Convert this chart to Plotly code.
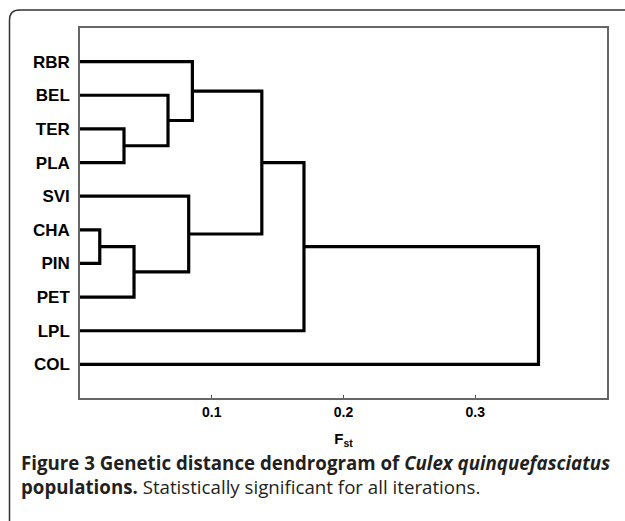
import plotly.graph_objects as go

# ---- data ----
leaves = ["RBR", "BEL", "TER", "PLA", "SVI", "CHA", "PIN", "PET", "LPL", "COL"]
# merges: indices < 10 refer to leaves, >= 10 to previous merges (10 + k)
merge_left = [2, 1, 0, 5, 13, 4, 12, 16, 17]
merge_right = [3, 10, 11, 6, 7, 14, 15, 8, 9]
merge_height = [0.0334, 0.0668, 0.0853, 0.015, 0.041, 0.0825, 0.138, 0.170, 0.348]
x_ticks = [0.1, 0.2, 0.3]
x_tick_labels = ["0.1", "0.2", "0.3"]

W, H = 625, 521
L, R, T, B = 80, 18, 28, 123
PW, PH = W - L - R, H - T - B


def px(x):
    return (x - L) / PW


def py(y):
    return (H - B - y) / PH


n = len(leaves)
pos_x = [0.0] * n
pos_y = [float(n - i) for i in range(n)]

fig = go.Figure()
for a, b, h in zip(merge_left, merge_right, merge_height):
    xa, ya = pos_x[a], pos_y[a]
    xb, yb = pos_x[b], pos_y[b]
    fig.add_trace(go.Scatter(
        x=[xa, h, h, xb], y=[ya, ya, yb, yb], mode="lines",
        line=dict(color="black", width=3.2), hoverinfo="skip", showlegend=False))
    pos_x.append(h)
    pos_y.append((ya + yb) / 2)

fig.update_xaxes(
    range=[0, 0.4], tickvals=x_ticks, ticktext=x_tick_labels,
    ticks="inside", ticklen=3, tickcolor="#555", tickwidth=1,
    showline=True, mirror=True, linecolor="#666", linewidth=1.5,
    showgrid=False, zeroline=False,
    tickfont=dict(family="Arial", size=14, color="black", weight="bold"),
    title=dict(text="F<sub>st</sub>", standoff=15,
               font=dict(family="Arial", size=15, color="black", weight="bold")),
)
fig.update_yaxes(
    range=[0, n + 1], tickvals=list(range(n, 0, -1)), ticktext=leaves,
    ticks="", showline=True, mirror=True, linecolor="#666", linewidth=1.5,
    showgrid=False, zeroline=False, ticklabelstandoff=5,
    tickfont=dict(family="Arial", size=17, color="black", weight="bold"),
)

# outer rounded frame
x0, y0, r = 9.5, 10, 10
path = (f"M {px(x0)},{py(H + 5)} L {px(x0)},{py(y0 + r)} "
        f"Q {px(x0)},{py(y0)} {px(x0 + r)},{py(y0)} L {px(W + 5)},{py(y0)}")
fig.add_shape(type="path", path=path, xref="paper", yref="paper",
              line=dict(color="#333", width=1.5))

cap_font = dict(family="Open Sans", size=18.7, color="#231f20")
fig.add_annotation(
    text="<b>Figure 3 Genetic distance dendrogram of <i>Culex quinquefasciatus</i></b>",
    xref="paper", yref="paper", x=px(19), y=py(462), xanchor="left", yanchor="middle",
    showarrow=False, font=cap_font)
fig.add_annotation(
    text="<b>populations.</b> Statistically significant for all iterations.",
    xref="paper", yref="paper", x=px(19), y=py(486), xanchor="left", yanchor="middle",
    showarrow=False, font=cap_font)

fig.update_layout(
    width=W, height=H, margin=dict(l=L, r=R, t=T, b=B),
    paper_bgcolor="white", plot_bgcolor="white",
)
fig.write_html("out.html")
